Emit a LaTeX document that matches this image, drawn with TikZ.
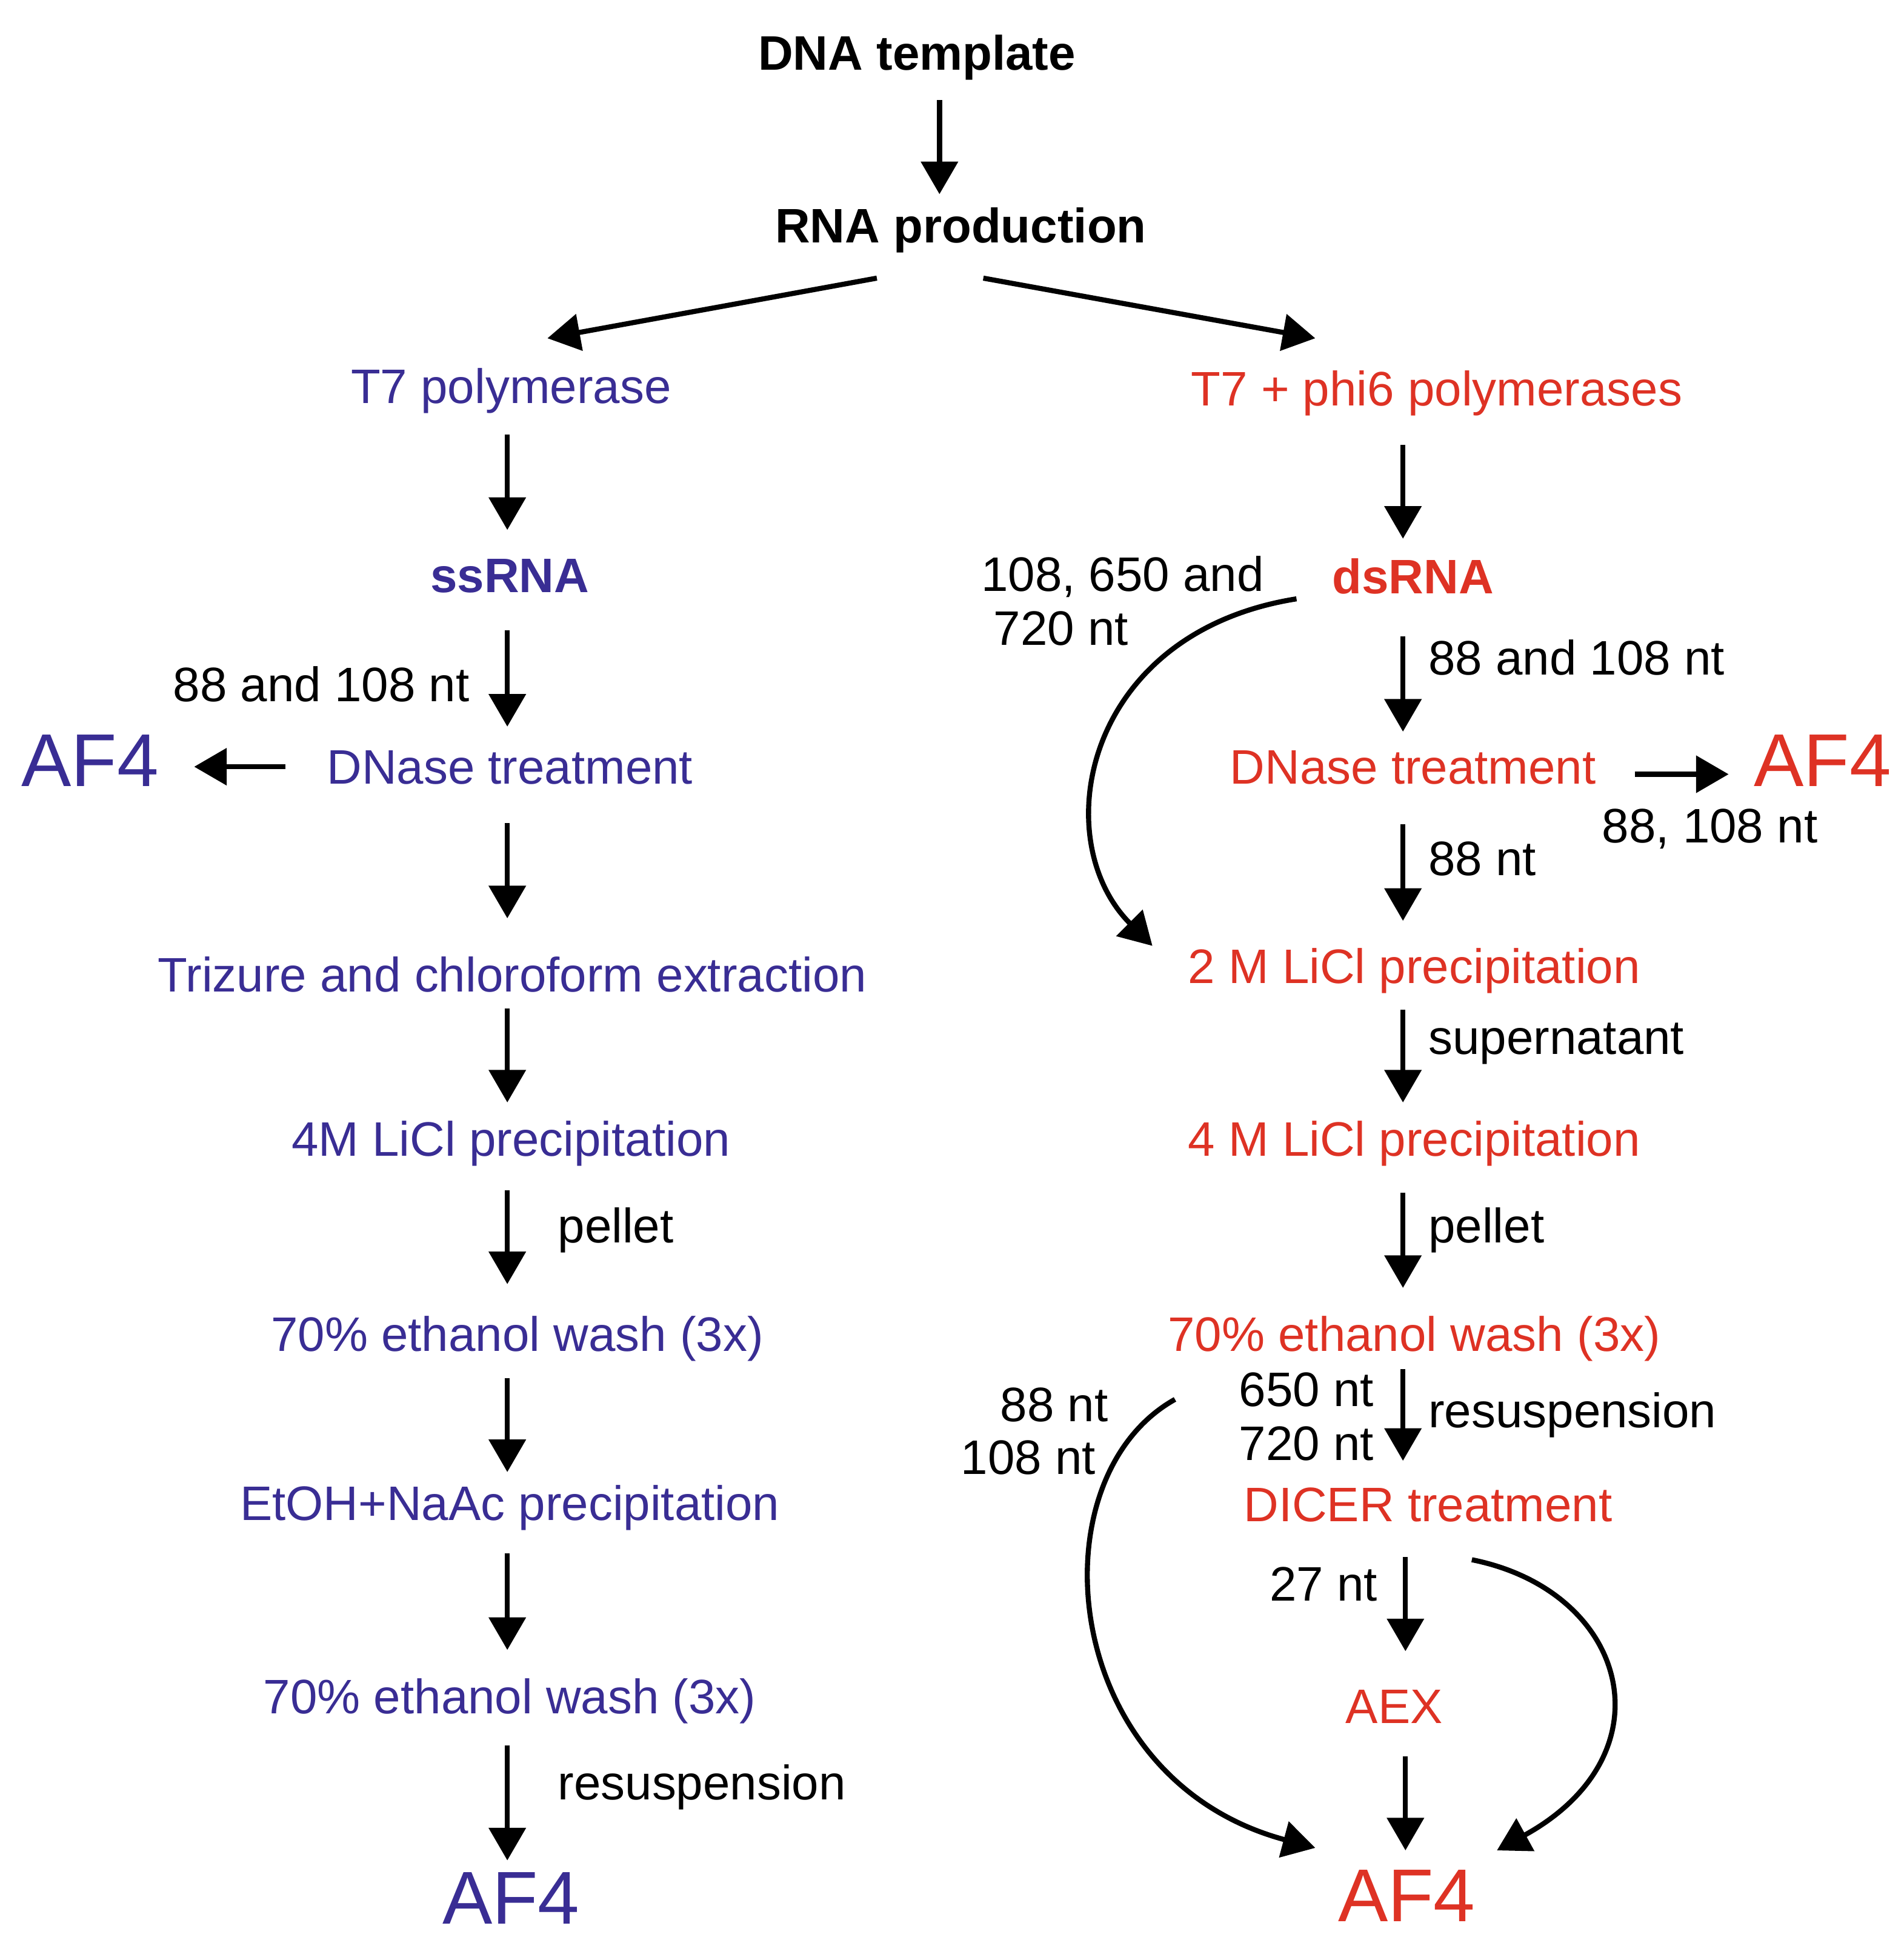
\documentclass[tikz,border=0pt]{standalone}
\usepackage{fontspec}
\setmainfont{Liberation Sans}
\usetikzlibrary{arrows.meta,calc}
\definecolor{myblue}{RGB}{57,45,148}
\definecolor{myred}{RGB}{222,50,36}
\begin{document}
\begin{tikzpicture}[x=0.02cm,y=-0.02cm,
  txt/.style={inner sep=0pt, font=\fontsize{22}{26}\selectfont, text height=1.22em, text depth=0pt},
  bold/.style={txt, font=\fontsize{22}{26}\selectfont\bfseries},
  bl/.style={txt,text=myblue}, rd/.style={txt,text=myred}, bk/.style={txt,text=black},
  big/.style={inner sep=0pt, font=\fontsize{34}{40}\selectfont, text height=1.22em, text depth=0pt},
  arr/.style={line width=2.3pt, -{Triangle[width=0.58cm,length=0.52cm]}},
  ]
\fill[white] (0,0) rectangle (1520,1564.5);
\useasboundingbox (0,0) rectangle (1520,1564.5);

% main nodes
\node[bold] (dna) at (732,45) {DNA template};
\node[bold] (rna) at (767,183) {RNA production};
\node[bl] (t7) at (408,311) {T7 polymerase};
\node[rd] (t7phi) at (1147,313) {T7 + phi6 polymerases};
\node[bold,text=myblue] (ss) at (407,462) {ssRNA};
\node[bold,text=myred] (ds) at (1128,463) {dsRNA};
\node[bl] (dnL) at (407,615) {DNase treatment};
\node[big,text=myblue] (af4a) at (72,617) {AF4};
\node[rd] (dnR) at (1128,615) {DNase treatment};
\node[big,text=myred] (af4b) at (1455,617) {AF4};
\node[bl] (triz) at (409,781) {Trizure and chloroform extraction};
\node[bl] (licl4L) at (408,912) {4M LiCl precipitation};
\node[bl] (ethL1) at (413,1068) {70\% ethanol wash (3x)};
\node[bl] (etoh) at (407,1203) {EtOH+NaAc precipitation};
\node[bl] (ethL2) at (407,1357) {70\% ethanol wash (3x)};
\node[big,text=myblue] (af4c) at (408,1525) {AF4};
\node[rd] (licl2) at (1129,774) {2 M LiCl precipitation};
\node[rd] (licl4R) at (1129,912) {4 M LiCl precipitation};
\node[rd] (ethR) at (1129,1068) {70\% ethanol wash (3x)};
\node[rd] (dicer) at (1140,1204) {DICER treatment};
\node[rd] (aex) at (1113,1365) {AEX};
\node[big,text=myred] (af4d) at (1123,1523) {AF4};

% labels
\node[bk,anchor=east] (l1) at (375,549) {88 and 108 nt};
\node[bk,anchor=west] (l2) at (445,981) {pellet};
\node[bk,anchor=west] (l3) at (445,1426) {resuspension};
\node[bk,anchor=west] (r1a) at (783,461) {108, 650 and};
\node[bk,anchor=west] (r1b) at (793,504) {720 nt};
\node[bk,anchor=west] (r2) at (1140,528) {88 and 108 nt};
\node[bk] (r3) at (1365,662) {88, 108 nt};
\node[bk,anchor=west] (r4) at (1140,688) {88 nt};
\node[bk,anchor=west] (r5) at (1140,831) {supernatant};
\node[bk,anchor=west] (r6) at (1140,981) {pellet};
\node[bk,anchor=west] (r7) at (1140,1129) {resuspension};
\node[bk,anchor=east] (r8a) at (1097,1112) {650 nt};
\node[bk,anchor=east] (r8b) at (1097,1155) {720 nt};
\node[bk,anchor=east] (r9a) at (885,1124) {88 nt};
\node[bk,anchor=east] (r9b) at (875,1166) {108 nt};
\node[bk,anchor=east] (r10) at (1100,1267) {27 nt};

% connectors - top
\draw[arr] ($(dna)+(18,35)$) -- ($(rna)+(-17,-28)$);
\draw[arr] ($(rna)+(-67,39)$) -- ($(t7)+(29,-41)$);
\draw[arr] ($(rna)+(18,39)$) -- ($(t7phi)+(-97,-43)$);
% left column
\draw[arr] ($(t7)+(-3,36)$) -- ($(ss)+(-2,-39)$);
\draw[arr] ($(ss)+(-2,41)$) -- ($(dnL)+(-2,-35)$);
\draw[arr] ($(dnL)+(-179,-3)$) -- ($(af4a)+(83,-5)$);
\draw[arr] ($(dnL)+(-2,42)$) -- ($(triz)+(-4,-48)$);
\draw[arr] ($(triz)+(-4,24)$) -- ($(licl4L)+(-3,-32)$);
\draw[arr] ($(licl4L)+(-3,38)$) -- ($(ethL1)+(-8,-43)$);
\draw[arr] ($(ethL1)+(-8,32)$) -- ($(etoh)+(-2,-28)$);
\draw[arr] ($(etoh)+(-2,37)$) -- ($(ethL2)+(-2,-40)$);
\draw[arr] ($(ethL2)+(-2,36)$) -- ($(af4c)+(-3,-40)$);
% right column
\draw[arr] ($(t7phi)+(-27,42)$) -- ($(ds)+(-8,-33)$);
\draw[arr] ($(ds)+(-8,45)$) -- ($(dnR)+(-8,-31)$);
\draw[arr] ($(ds)+(-93,15)$) .. controls (865,505) and (835,670) .. ($(licl2)+(-209,-19)$);
\draw[arr] ($(dnR)+(177,3)$) -- ($(af4b)+(-75,1)$);
\draw[arr] ($(dnR)+(-8,43)$) -- ($(licl2)+(-9,-39)$);
\draw[arr] ($(licl2)+(-9,32)$) -- ($(licl4R)+(-9,-32)$);
\draw[arr] ($(licl4R)+(-9,40)$) -- ($(ethR)+(-9,-40)$);
\draw[arr] ($(ethR)+(-9,25)$) -- ($(dicer)+(-20,-38)$);
\draw[arr] ($(ethR)+(-191,49)$) .. controls (825,1180) and (845,1420) .. ($(af4d)+(-73,-48)$);
\draw[arr] ($(dicer)+(-18,39)$) -- ($(aex)+(9,-47)$);
\draw[arr] ($(dicer)+(35,41)$) .. controls (1300,1270) and (1335,1400) .. ($(af4d)+(72,-46)$);
\draw[arr] ($(aex)+(9,37)$) -- ($(af4d)+(-1,-46)$);
\end{tikzpicture}
\end{document}
